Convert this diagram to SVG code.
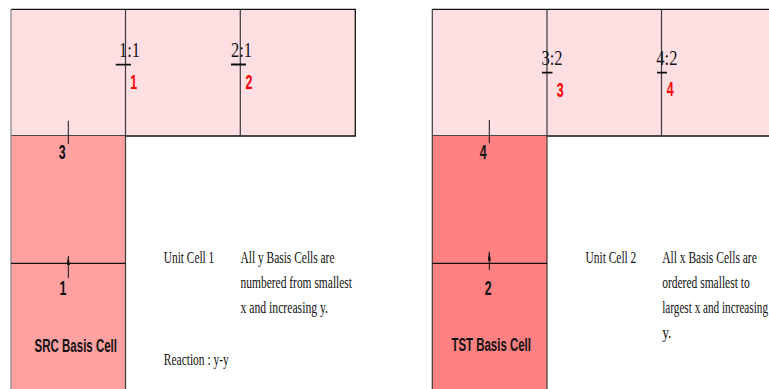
<svg xmlns="http://www.w3.org/2000/svg" width="769" height="389" viewBox="0 0 769 389">
  <defs>
    <style>
      .top { fill: #FFDFE1; }
      .src { fill: #FFA1A1; }
      .tst { fill: #FF8181; }
      .edge { stroke: #111; stroke-width: 1.3; fill: none; }
      .soft { stroke: #8a8a8a; stroke-width: 1.3; fill: none; }
      .div { stroke: #3a3a3a; stroke-width: 1.2; fill: none; }
      .tick { stroke: #111; stroke-width: 1; fill: none; }
      .bar { stroke: #111; stroke-width: 1.8; fill: none; }
      .serif { font-family: "Liberation Serif", "Times New Roman", serif; font-size: 16px; fill: #111; }
      .ratio { font-family: "Liberation Serif", "Times New Roman", serif; font-size: 22px; fill: #111; }
      .num { font-family: "Liberation Sans", Arial, sans-serif; font-weight: bold; font-size: 20px; fill: #111; text-anchor: middle; }
      .red { fill: #FF0000; }
      .name { font-family: "Liberation Sans", Arial, sans-serif; font-weight: bold; font-size: 18px; fill: #111; }
    </style>
    <marker id="head" markerUnits="userSpaceOnUse" markerWidth="10" markerHeight="4" refX="9" refY="1.75" orient="auto">
      <path d="M0,0 L9,1.75 L0,3.5 z" fill="#111"/>
    </marker>
  </defs>

  <!-- Unit cell 1: row of x basis cells -->
  <g id="unit1-row">
    <rect class="top" x="11" y="9.3" width="344.3" height="126.7"/>
    <path class="edge" d="M11,9.3 H355.3 V136 H11"/>
    <path class="soft" d="M11,9.3 V136"/>
    <path class="div" d="M125.5,9.3 V136 M240.3,9.3 V136"/>
  </g>

  <!-- Unit cell 1: source column -->
  <g id="src-column">
    <rect class="src" x="11" y="136" width="114.5" height="260"/>
    <path class="soft" d="M11,136 V396"/>
    <path class="div" d="M125.5,136 V396"/>
    <path class="edge" d="M11,263.3 H125.5"/>
    <text class="name" x="34.6" y="351.5" textLength="82.4" lengthAdjust="spacingAndGlyphs">SRC Basis Cell</text>
  </g>

  <!-- Unit cell 2: row of x basis cells -->
  <g id="unit2-row">
    <rect class="top" x="432.3" y="9.3" width="340" height="126.7"/>
    <path class="edge" d="M432.3,9.3 H775 M432.3,136 H775"/>
    <path class="div" d="M432.3,9.3 V136 M547,9.3 V136 M661.5,9.3 V136"/>
  </g>

  <!-- Unit cell 2: test column -->
  <g id="tst-column">
    <rect class="tst" x="432.3" y="136" width="114.7" height="260"/>
    <path class="div" d="M432.3,136 V396 M547,136 V396"/>
    <path class="edge" d="M432.3,263.3 H547"/>
    <text class="name" x="451.4" y="351" textLength="79.6" lengthAdjust="spacingAndGlyphs">TST Basis Cell</text>
  </g>

  <!-- basis cell ratio labels -->
  <g id="ratio-labels">
    <text class="ratio" transform="translate(119,57) scale(0.75,1)">1:1</text>
    <text class="ratio" transform="translate(231,57) scale(0.75,1)">2:1</text>
    <text class="ratio" transform="translate(541.5,65) scale(0.75,1)">3:2</text>
    <text class="ratio" transform="translate(656.3,65) scale(0.75,1)">4:2</text>
  </g>

  <!-- basis cell numbers -->
  <g id="cell-numbers">
    <text class="num red" transform="translate(133.7,89) scale(0.62,1)">1</text>
    <text class="num red" transform="translate(249,89) scale(0.62,1)">2</text>
    <text class="num red" transform="translate(560.3,96.7) scale(0.62,1)">3</text>
    <text class="num red" transform="translate(670.3,96.3) scale(0.62,1)">4</text>
    <text class="num" transform="translate(62.3,159.3) scale(0.62,1)">3</text>
    <text class="num" transform="translate(62.9,295) scale(0.62,1)">1</text>
    <text class="num" transform="translate(483.3,159.3) scale(0.62,1)">4</text>
    <text class="num" transform="translate(488.3,295) scale(0.62,1)">2</text>
  </g>

  <!-- connection ticks and arrows -->
  <g id="connectors">
    <path class="bar" d="M115.7,64.7 H131 M231,64.5 H246 M542,72.7 H552.5 M657,72.7 H667"/>
    <path class="tick" d="M68.3,120.7 V144 M489.3,120 V143.3"/>
    <line class="tick" x1="68.3" y1="278.3" x2="68.3" y2="256" marker-end="url(#head)"/>
    <line class="tick" x1="489.3" y1="270" x2="489.3" y2="251.7" marker-end="url(#head)"/>
  </g>

  <!-- unit cell notes -->
  <g id="notes1">
    <text class="serif" x="163.8" y="263" textLength="50.5" lengthAdjust="spacingAndGlyphs">Unit Cell 1</text>
    <text class="serif" x="240.5" y="263" textLength="94" lengthAdjust="spacingAndGlyphs">All y Basis Cells are</text>
    <text class="serif" x="240.5" y="288" textLength="111.5" lengthAdjust="spacingAndGlyphs">numbered from smallest</text>
    <text class="serif" x="240.5" y="313" textLength="87.5" lengthAdjust="spacingAndGlyphs">x and increasing y.</text>
    <text class="serif" x="163.8" y="365" textLength="65" lengthAdjust="spacingAndGlyphs">Reaction : y-y</text>
  </g>
  <g id="notes2">
    <text class="serif" x="585.5" y="263" textLength="50.8" lengthAdjust="spacingAndGlyphs">Unit Cell 2</text>
    <text class="serif" x="662.2" y="263" textLength="94.6" lengthAdjust="spacingAndGlyphs">All x Basis Cells are</text>
    <text class="serif" x="662.2" y="288" textLength="87.5" lengthAdjust="spacingAndGlyphs">ordered smallest to</text>
    <text class="serif" x="662.2" y="313" textLength="105.8" lengthAdjust="spacingAndGlyphs">largest x and increasing</text>
    <text class="serif" x="662.2" y="338" textLength="9.3" lengthAdjust="spacingAndGlyphs">y.</text>
  </g>
</svg>
